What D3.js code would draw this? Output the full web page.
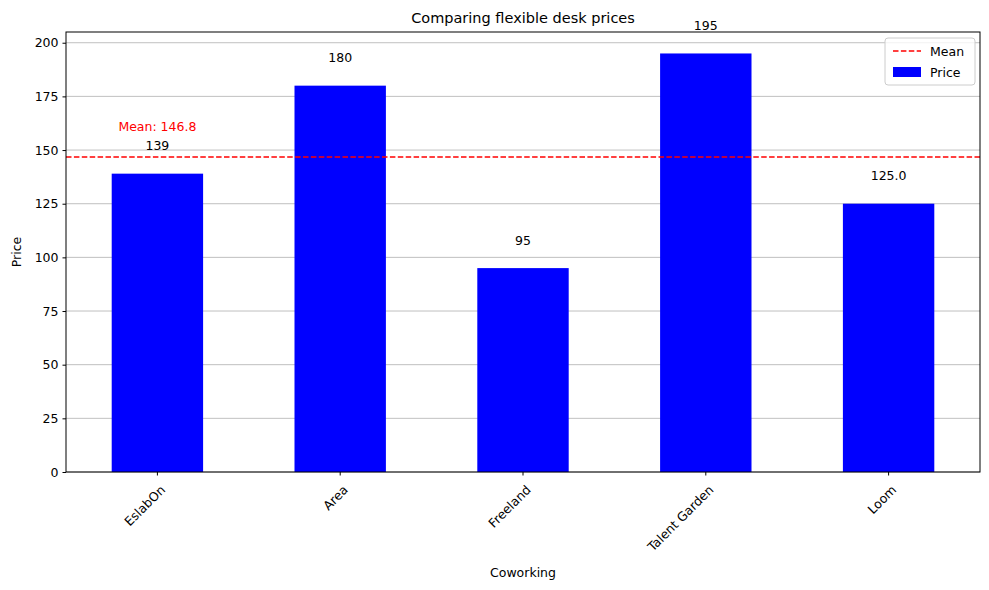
<!DOCTYPE html>
<html><head><meta charset="utf-8">
<script src="https://cdn.jsdelivr.net/npm/d3@7"></script>
<style>body{margin:0;background:#fff}text{font-family:"DejaVu Sans",sans-serif}</style>
</head><body><svg id="c" width="989" height="590"></svg>
<script>
const categories=["EslabOn","Area","Freeland","Talent Garden","Loom"];
const prices=[139,180,95,195,125];
const priceLabels=["139","180","95","195","125.0"];
const yTicks=[0,25,50,75,100,125,150,175,200];
const meanVal=146.8;

const svg=d3.select("#c");
const L=66,R=980,T=32,B=472;
const x=d3.scaleBand().domain(categories).range([L,R]).padding(0.5).paddingOuter(0.25);
const y=d3.scaleLinear().domain([0,205]).range([B,T]);

// grid
svg.append("g").selectAll("line").data(yTicks).join("line")
 .attr("x1",L).attr("x2",R).attr("y1",d=>y(d)).attr("y2",d=>y(d))
 .attr("stroke","#b0b0b0").attr("stroke-width",0.8);

svg.append("g").selectAll("rect").data(prices).join("rect")
 .attr("x",(d,i)=>x(categories[i])).attr("width",x.bandwidth())
 .attr("y",d=>y(d)).attr("height",d=>B-y(d)).attr("fill","#0000ff");

svg.append("line").attr("x1",L).attr("x2",R).attr("y1",y(meanVal)).attr("y2",y(meanVal))
 .attr("stroke","red").attr("stroke-width",1.5).attr("stroke-dasharray","5.5,2.4");

svg.append("g").selectAll("text").data(prices).join("text")
 .attr("x",(d,i)=>x(categories[i])+x.bandwidth()/2).attr("y",d=>y(d+10)-2)
 .attr("text-anchor","middle").attr("font-size",12.5).text((d,i)=>priceLabels[i]);

svg.append("text").attr("x",x(categories[0])+x.bandwidth()/2).attr("y",y(meanVal+10)-4)
 .attr("text-anchor","middle").attr("font-size",12.5).attr("fill","red").text("Mean: "+meanVal);

// axes
const ya=svg.append("g").attr("transform",`translate(${L},0)`).call(d3.axisLeft(y).tickValues(yTicks).tickSize(3.5).tickPadding(4));
const xa=svg.append("g").attr("transform",`translate(0,${B})`).call(d3.axisBottom(x).tickSize(3.5));
[ya,xa].forEach(a=>{a.select(".domain").remove();a.selectAll("text").attr("font-size",12.5).attr("fill","#000").attr("font-family","DejaVu Sans");a.selectAll("line").attr("stroke","#000")});
xa.selectAll("text").attr("text-anchor","end").attr("dx","0").attr("dy","0")
 .attr("transform","translate(4,14) rotate(-45)");
svg.append("rect").attr("x",L).attr("y",T).attr("width",R-L).attr("height",B-T).attr("fill","none").attr("stroke","#000").attr("stroke-width",1);

svg.append("text").attr("x",(L+R)/2).attr("y",23).attr("text-anchor","middle").attr("font-size",14.5).text("Comparing flexible desk prices");
svg.append("text").attr("x",(L+R)/2).attr("y",577).attr("text-anchor","middle").attr("font-size",12.5).text("Coworking");
svg.append("text").attr("transform",`translate(21,${(T+B)/2}) rotate(-90)`).attr("text-anchor","middle").attr("font-size",12.5).text("Price");

// legend
const lg=svg.append("g").attr("transform","translate(885,38)");
lg.append("rect").attr("width",90).attr("height",47).attr("rx",3).attr("fill","#fff").attr("fill-opacity",0.8).attr("stroke","#ccc");
lg.append("line").attr("x1",8).attr("x2",36).attr("y1",13).attr("y2",13).attr("stroke","red").attr("stroke-width",1.5).attr("stroke-dasharray","5.5,2.4");
lg.append("text").attr("x",45).attr("y",17.5).attr("font-size",12.5).text("Mean");
lg.append("rect").attr("x",8).attr("y",29).attr("width",28).attr("height",10).attr("fill","#0000ff");
lg.append("text").attr("x",45).attr("y",39).attr("font-size",12.5).text("Price");
</script></body></html>
